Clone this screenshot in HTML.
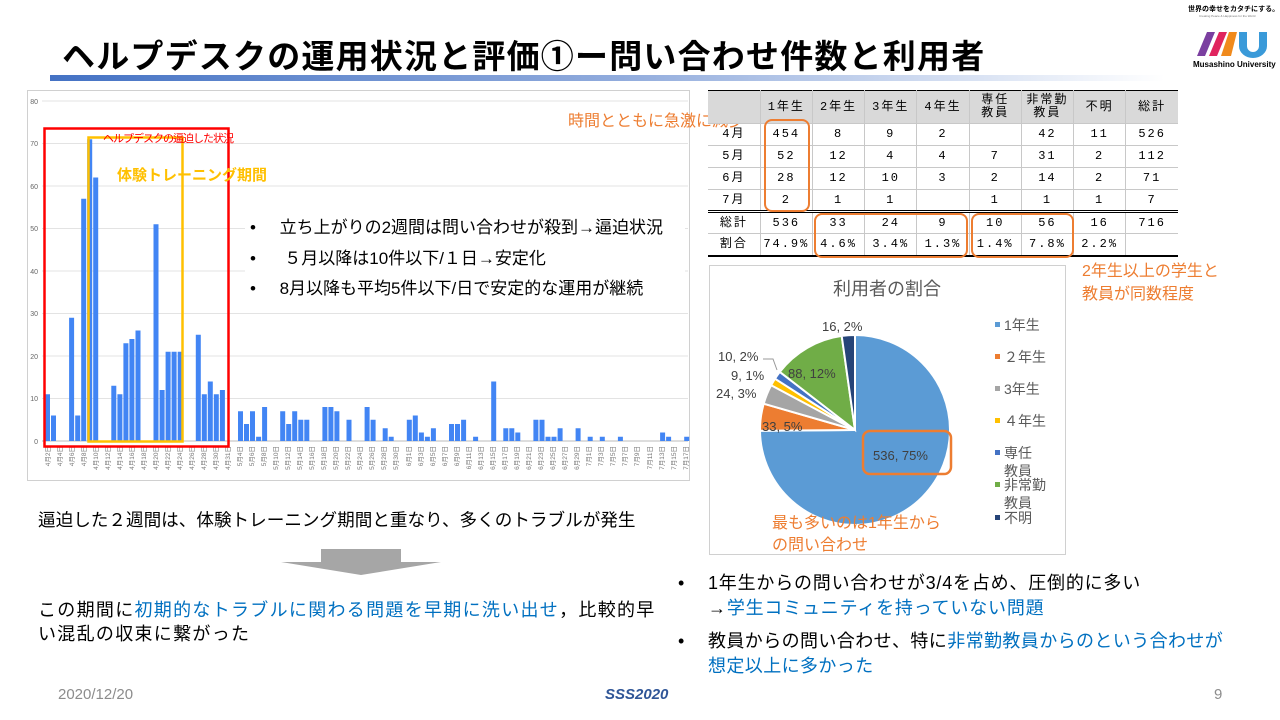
<!DOCTYPE html>
<html><head><meta charset="utf-8"><style>
*{margin:0;padding:0;box-sizing:border-box}
body{width:1280px;height:720px;background:#fff;position:relative;overflow:hidden;font-family:"Liberation Sans","Noto Sans CJK JP",sans-serif;color:#000}
.a{position:absolute;white-space:nowrap}
.o{color:#ed7d31}.b{color:#0070c0}
table{border-collapse:collapse;position:absolute;left:708px;top:90px;width:470px;font-family:"Liberation Mono","Noto Sans CJK JP",monospace;font-size:12px;letter-spacing:2px;table-layout:fixed}
td{border:1px solid #c8c8c8;text-align:center;height:22px;padding:0;line-height:13px}
tr.h td{background:#d9d9d9;height:33px;border-top:1px solid #000}
tr.t td{border-top:3px double #000}
tr.l td{border-bottom:2px solid #000}
td:first-child{border-left:none}td:last-child{border-right:none}
.r{position:absolute;border:2.5px solid #ed7d31;border-radius:8px}
</style></head><body>
<div class="a" style="left:62px;top:30px;font-size:33px;font-weight:bold;letter-spacing:1.2px">ヘルプデスクの運用状況と評価①ー問い合わせ件数と利用者</div>
<div class="a" style="left:50px;top:75px;width:1115px;height:6px;background:linear-gradient(90deg,#4472c4,#8faadc 50%,#fff)"></div>
<div class="a" style="left:1188px;top:4px;font-size:7px;font-weight:bold">世界の幸せをカタチにする。</div>
<div class="a" style="left:1199px;top:14px;font-size:3px;color:#777">Creating Peace &amp; Happiness for the World</div>
<svg class="a" style="left:1195px;top:28px" width="75" height="30"><polygon points="2,28 12,4 20,4 10,28" fill="#7b3fa0"/><polygon points="14,28 24,4 32,4 22,28" fill="#e0245e"/><polygon points="26,28 34,4 42,4 36,28" fill="#f08a1c"/><path d="M44,4 h8 v14 a6,6 0 0 0 12,0 v-14 h8 v14 a14,12 0 0 1 -28,0z" fill="#3a9ad9"/></svg>
<div class="a" style="left:1193px;top:60px;font-size:8px;font-weight:bold">Musashino University</div>

<svg class="a" style="left:0;top:0" width="700" height="490">
<rect x="27.5" y="90.5" width="662" height="390" fill="#fff" stroke="#d0d0d0"/>
<g stroke="#e3e3e3" stroke-width="1">
<line x1="42" x2="688" y1="398.5" y2="398.5"/><line x1="42" x2="688" y1="356" y2="356"/><line x1="42" x2="688" y1="313.5" y2="313.5"/><line x1="42" x2="688" y1="271" y2="271"/><line x1="42" x2="688" y1="228.5" y2="228.5"/><line x1="42" x2="688" y1="186" y2="186"/><line x1="42" x2="688" y1="143.5" y2="143.5"/><line x1="42" x2="688" y1="101" y2="101"/></g>
<line x1="42" x2="688" y1="441" y2="441" stroke="#bbb"/>
<g font-size="7" fill="#666" text-anchor="end"><text x="38" y="444">0</text><text x="38" y="401">10</text><text x="38" y="359">20</text><text x="38" y="316">30</text><text x="38" y="274">40</text><text x="38" y="231">50</text><text x="38" y="189">60</text><text x="38" y="146">70</text><text x="38" y="104">80</text></g>
<g fill="#4285f4">
<rect x="45" y="394.25" width="5" height="46.75"/><rect x="51" y="415.5" width="5" height="25.5"/><rect x="69.1" y="317.75" width="5" height="123.25"/><rect x="75.2" y="415.5" width="5" height="25.5"/><rect x="81.2" y="198.75" width="5" height="242.25"/><rect x="87.2" y="139.25" width="5" height="301.75"/><rect x="93.2" y="177.5" width="5" height="263.5"/><rect x="111.3" y="385.75" width="5" height="55.25"/><rect x="117.4" y="394.25" width="5" height="46.75"/><rect x="123.4" y="343.25" width="5" height="97.75"/><rect x="129.4" y="339" width="5" height="102"/><rect x="135.5" y="330.5" width="5" height="110.5"/><rect x="153.5" y="224.25" width="5" height="216.75"/><rect x="159.6" y="390" width="5" height="51"/><rect x="165.6" y="351.75" width="5" height="89.25"/><rect x="171.6" y="351.75" width="5" height="89.25"/><rect x="177.7" y="351.75" width="5" height="89.25"/><rect x="195.8" y="334.75" width="5" height="106.25"/><rect x="201.8" y="394.25" width="5" height="46.75"/><rect x="207.8" y="381.5" width="5" height="59.5"/><rect x="213.8" y="394.25" width="5" height="46.75"/><rect x="219.9" y="390" width="5" height="51"/>
<rect x="238" y="411.25" width="5" height="29.75"/><rect x="244" y="424" width="5" height="17"/><rect x="250" y="411.25" width="5" height="29.75"/><rect x="256.1" y="436.75" width="5" height="4.25"/><rect x="262.1" y="407" width="5" height="34"/><rect x="280.2" y="411.25" width="5" height="29.75"/><rect x="286.2" y="424" width="5" height="17"/><rect x="292.2" y="411.25" width="5" height="29.75"/><rect x="298.3" y="419.75" width="5" height="21.25"/><rect x="304.3" y="419.75" width="5" height="21.25"/><rect x="322.4" y="407" width="5" height="34"/><rect x="328.4" y="407" width="5" height="34"/><rect x="334.4" y="411.25" width="5" height="29.75"/><rect x="346.5" y="419.75" width="5" height="21.25"/><rect x="364.6" y="407" width="5" height="34"/><rect x="370.6" y="419.75" width="5" height="21.25"/><rect x="382.7" y="428.25" width="5" height="12.75"/><rect x="388.7" y="436.75" width="5" height="4.25"/><rect x="406.8" y="419.75" width="5" height="21.25"/><rect x="412.8" y="415.5" width="5" height="25.5"/><rect x="418.9" y="432.5" width="5" height="8.5"/><rect x="424.9" y="436.75" width="5" height="4.25"/><rect x="430.9" y="428.25" width="5" height="12.75"/><rect x="449" y="424" width="5" height="17"/><rect x="455" y="424" width="5" height="17"/><rect x="461.1" y="419.75" width="5" height="21.25"/><rect x="473.1" y="436.75" width="5" height="4.25"/><rect x="491.2" y="381.5" width="5" height="59.5"/><rect x="503.3" y="428.25" width="5" height="12.75"/><rect x="509.3" y="428.25" width="5" height="12.75"/><rect x="515.3" y="432.5" width="5" height="8.5"/><rect x="533.4" y="419.75" width="5" height="21.25"/><rect x="539.5" y="419.75" width="5" height="21.25"/><rect x="545.5" y="436.75" width="5" height="4.25"/><rect x="551.5" y="436.75" width="5" height="4.25"/><rect x="557.6" y="428.25" width="5" height="12.75"/><rect x="575.6" y="428.25" width="5" height="12.75"/><rect x="587.7" y="436.75" width="5" height="4.25"/><rect x="599.8" y="436.75" width="5" height="4.25"/><rect x="617.9" y="436.75" width="5" height="4.25"/><rect x="660.1" y="432.5" width="5" height="8.5"/><rect x="666.1" y="436.75" width="5" height="4.25"/><rect x="684.2" y="436.75" width="5" height="4.25"/>
</g>
<g font-size="6.5" fill="#777" text-anchor="end">
<text transform="translate(50,446) rotate(-90)">4月2日</text><text transform="translate(62,446) rotate(-90)">4月4日</text><text transform="translate(74,446) rotate(-90)">4月6日</text><text transform="translate(86,446) rotate(-90)">4月8日</text><text transform="translate(98,446) rotate(-90)">4月10日</text><text transform="translate(110,446) rotate(-90)">4月12日</text><text transform="translate(122,446) rotate(-90)">4月14日</text><text transform="translate(134,446) rotate(-90)">4月16日</text><text transform="translate(146,446) rotate(-90)">4月18日</text><text transform="translate(158,446) rotate(-90)">4月20日</text><text transform="translate(170,446) rotate(-90)">4月22日</text><text transform="translate(182,446) rotate(-90)">4月24日</text><text transform="translate(194,446) rotate(-90)">4月26日</text><text transform="translate(206,446) rotate(-90)">4月28日</text><text transform="translate(218,446) rotate(-90)">4月30日</text><text transform="translate(230,446) rotate(-90)">4月31日</text><text transform="translate(242,446) rotate(-90)">5月4日</text><text transform="translate(254,446) rotate(-90)">5月6日</text><text transform="translate(266,446) rotate(-90)">5月8日</text><text transform="translate(278,446) rotate(-90)">5月10日</text><text transform="translate(290,446) rotate(-90)">5月12日</text><text transform="translate(302,446) rotate(-90)">5月14日</text><text transform="translate(314,446) rotate(-90)">5月16日</text><text transform="translate(326,446) rotate(-90)">5月18日</text><text transform="translate(338,446) rotate(-90)">5月20日</text><text transform="translate(350,446) rotate(-90)">5月22日</text><text transform="translate(362,446) rotate(-90)">5月24日</text><text transform="translate(374,446) rotate(-90)">5月26日</text><text transform="translate(386,446) rotate(-90)">5月28日</text><text transform="translate(398,446) rotate(-90)">5月30日</text><text transform="translate(411,446) rotate(-90)">6月1日</text><text transform="translate(423,446) rotate(-90)">6月3日</text><text transform="translate(435,446) rotate(-90)">6月5日</text><text transform="translate(447,446) rotate(-90)">6月7日</text><text transform="translate(459,446) rotate(-90)">6月9日</text><text transform="translate(471,446) rotate(-90)">6月11日</text><text transform="translate(483,446) rotate(-90)">6月13日</text><text transform="translate(495,446) rotate(-90)">6月15日</text><text transform="translate(507,446) rotate(-90)">6月17日</text><text transform="translate(519,446) rotate(-90)">6月19日</text><text transform="translate(531,446) rotate(-90)">6月21日</text><text transform="translate(543,446) rotate(-90)">6月23日</text><text transform="translate(555,446) rotate(-90)">6月25日</text><text transform="translate(567,446) rotate(-90)">6月27日</text><text transform="translate(579,446) rotate(-90)">6月29日</text><text transform="translate(591,446) rotate(-90)">7月1日</text><text transform="translate(603,446) rotate(-90)">7月3日</text><text transform="translate(615,446) rotate(-90)">7月5日</text><text transform="translate(627,446) rotate(-90)">7月7日</text><text transform="translate(639,446) rotate(-90)">7月9日</text><text transform="translate(652,446) rotate(-90)">7月11日</text><text transform="translate(664,446) rotate(-90)">7月13日</text><text transform="translate(676,446) rotate(-90)">7月15日</text><text transform="translate(688,446) rotate(-90)">7月17日</text>
</g>
<rect x="245" y="212" width="440" height="92" fill="#fff"/>
<rect x="44.5" y="128.5" width="184" height="318" fill="none" stroke="#ff0000" stroke-width="2.5"/>
<rect x="88.5" y="137.5" width="94" height="304" fill="none" stroke="#ffc000" stroke-width="2.5"/>
<text x="103" y="142" font-size="11" fill="#ff0000" letter-spacing="-1">ヘルプデスクの逼迫した状況</text>
<text x="117" y="180" font-size="15" font-weight="bold" fill="#ffc000">体験トレーニング期間</text>
</svg>
<div class="a" style="left:250px;top:213px;font-size:17px;line-height:30.5px">
<div>•&nbsp;&nbsp;&nbsp;&nbsp;&nbsp;立ち上がりの2週間は問い合わせが殺到→逼迫状況</div>
<div>•&nbsp;&nbsp;&nbsp;&nbsp;&nbsp;&nbsp;５月以降は10件以下/１日→安定化</div>
<div>•&nbsp;&nbsp;&nbsp;&nbsp;&nbsp;8月以降も平均5件以下/日で安定的な運用が継続</div></div>

<div class="a o" style="left:568px;top:107px;font-size:16px">時間とともに急激に減少</div>
<table>
<tr class="h"><td></td><td>1年生</td><td>2年生</td><td>3年生</td><td>4年生</td><td>専任<br>教員</td><td>非常勤<br>教員</td><td>不明</td><td>総計</td></tr>
<tr><td>4月</td><td>454</td><td>8</td><td>9</td><td>2</td><td></td><td>42</td><td>11</td><td>526</td></tr>
<tr><td>5月</td><td>52</td><td>12</td><td>4</td><td>4</td><td>7</td><td>31</td><td>2</td><td>112</td></tr>
<tr><td>6月</td><td>28</td><td>12</td><td>10</td><td>3</td><td>2</td><td>14</td><td>2</td><td>71</td></tr>
<tr><td>7月</td><td>2</td><td>1</td><td>1</td><td></td><td>1</td><td>1</td><td>1</td><td>7</td></tr>
<tr class="t"><td>総計</td><td>536</td><td>33</td><td>24</td><td>9</td><td>10</td><td>56</td><td>16</td><td>716</td></tr>
<tr class="l"><td>割合</td><td>74.9%</td><td>4.6%</td><td>3.4%</td><td>1.3%</td><td>1.4%</td><td>7.8%</td><td>2.2%</td><td></td></tr>
</table>
<div class="r" style="left:764px;top:119px;width:46px;height:93px"></div>
<div class="r" style="left:814px;top:213px;width:154px;height:45px"></div>
<div class="r" style="left:971px;top:213px;width:103px;height:45px"></div>
<div class="a o" style="left:1082px;top:260px;font-size:16px;line-height:23px">2年生以上の学生と<br>教員が同数程度</div>

<svg class="a" style="left:0;top:0" width="1280" height="720">
<rect x="709.5" y="265.5" width="356" height="289" fill="#fff" stroke="#d0d0d0"/>
<text x="887" y="295" font-size="18" fill="#595959" text-anchor="middle">利用者の割合</text>
<g stroke="#fff" stroke-width="2">
<path d="M855,430 L855,335 A95,95 0 1 1 760,430.8 Z" fill="#5b9bd5"/>
<path d="M855,430 L760,430.8 A95,95 0 0 1 763.7,403.7 Z" fill="#ed7d31"/>
<path d="M855,430 L763.7,403.7 A95,95 0 0 1 771.2,385.2 Z" fill="#a5a5a5"/>
<path d="M855,430 L771.2,385.2 A95,95 0 0 1 775,378.7 Z" fill="#ffc000"/>
<path d="M855,430 L775,378.7 A95,95 0 0 1 779.8,371.9 Z" fill="#4472c4"/>
<path d="M855,430 L779.8,371.9 A95,95 0 0 1 841.7,335.9 Z" fill="#70ad47"/>
<path d="M855,430 L841.7,335.9 A95,95 0 0 1 855,335 Z" fill="#264478"/>
</g>
<g font-size="13" fill="#404040">
<text x="822" y="331">16, 2%</text><text x="718" y="361">10, 2%</text><text x="731" y="380">9, 1%</text><text x="716" y="398">24, 3%</text><text x="788" y="378">88, 12%</text><text x="762" y="431">33, 5%</text><text x="873" y="460">536, 75%</text></g>
<polyline points="763,359 773,359 777,370" fill="none" stroke="#999"/>
<rect x="863" y="431" width="88" height="43" rx="7" fill="none" stroke="#ed7d31" stroke-width="2.5"/>
<g font-size="14" fill="#595959">
<rect x="995" y="322" width="5" height="5" fill="#5b9bd5"/><text x="1004" y="330">1年生</text>
<rect x="995" y="354" width="5" height="5" fill="#ed7d31"/><text x="1004" y="362">２年生</text>
<rect x="995" y="386" width="5" height="5" fill="#a5a5a5"/><text x="1004" y="394">3年生</text>
<rect x="995" y="418" width="5" height="5" fill="#ffc000"/><text x="1004" y="426">４年生</text>
<rect x="995" y="450" width="5" height="5" fill="#4472c4"/><text x="1004" y="458">専任</text><text x="1004" y="476">教員</text>
<rect x="995" y="482" width="5" height="5" fill="#70ad47"/><text x="1004" y="490">非常勤</text><text x="1004" y="508">教員</text>
<rect x="995" y="515" width="5" height="5" fill="#264478"/><text x="1004" y="523">不明</text></g>
<text x="772" y="528" font-size="16" fill="#ed7d31">最も多いのは1年生から</text>
<text x="772" y="550" font-size="16" fill="#ed7d31">の問い合わせ</text>
<polygon points="321,549 401,549 401,562 441,562 361,575 281,562 321,562" fill="#a6a6a6"/>
</svg>

<div class="a" style="left:38px;top:507px;font-size:17.6px">逼迫した２週間は、体験トレーニング期間と重なり、多くのトラブルが発生</div>
<div class="a" style="left:38px;top:598px;font-size:18px;line-height:24px;letter-spacing:1.3px">この期間に<span class="b">初期的なトラブルに関わる問題を早期に洗い出せ</span>，比較的早<br>い混乱の収束に繋がった</div>
<div class="a" style="left:678px;top:571px;font-size:18px;line-height:25px">•</div>
<div class="a" style="left:708px;top:571px;font-size:18px;line-height:25px;letter-spacing:0.8px">1年生からの問い合わせが3/4を占め、圧倒的に多い<br>→<span class="b">学生コミュニティを持っていない問題</span></div>
<div class="a" style="left:678px;top:629px;font-size:18px;line-height:25px">•</div>
<div class="a" style="left:708px;top:629px;font-size:18px;line-height:25px;letter-spacing:0.4px">教員からの問い合わせ、特に<span class="b">非常勤教員からのという合わせが</span><br><span class="b">想定以上に多かった</span></div>
<div class="a" style="left:58px;top:686px;font-size:15px;color:#8c8c8c">2020/12/20</div>
<div class="a" style="left:605px;top:686px;font-size:15px;color:#2f5597;font-weight:bold;font-style:italic">SSS2020</div>
<div class="a" style="left:1214px;top:686px;font-size:15px;color:#8c8c8c">9</div>
</body></html>
